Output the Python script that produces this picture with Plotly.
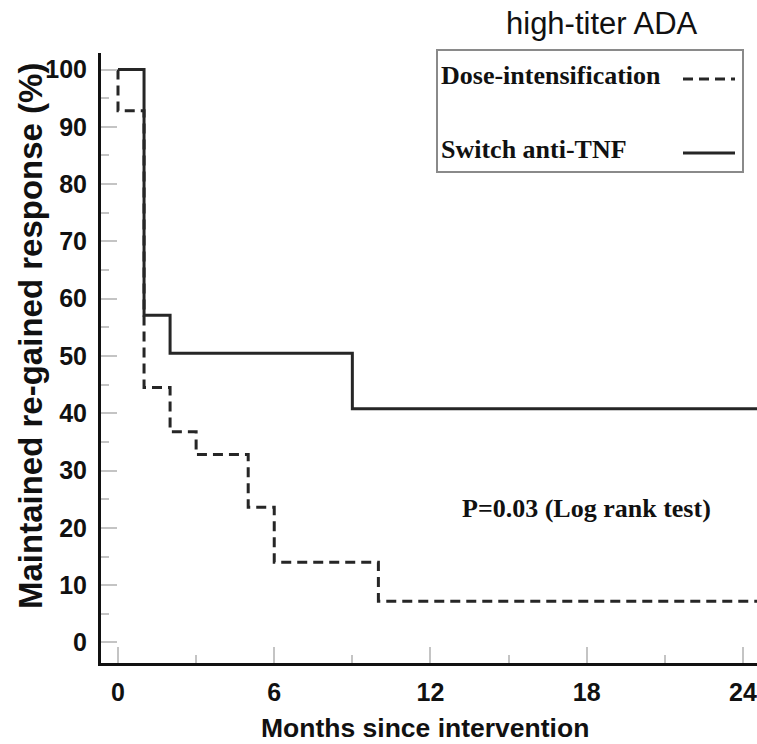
import plotly.graph_objects as go

# ---- data ----
switch_months = [0, 1, 2, 9, 24.6]
switch_resp = [100, 57.1, 50.5, 40.8, 40.8]

dose_months = [0, 0, 1, 2, 3, 5, 6, 10, 24.6]
dose_resp = [100, 92.8, 44.5, 36.8, 32.8, 23.6, 14.0, 7.2, 7.2]

x_ticks = [0, 6, 12, 18, 24]
y_ticks = [0, 10, 20, 30, 40, 50, 60, 70, 80, 90, 100]

series_names = ["Dose-intensification", "Switch anti-TNF"]
title_text = "high-titer ADA"
x_title = "Months since intervention"
y_title = "Maintained re-gained response (%)"
p_text = "P=0.03 (Log rank test)"

LINE = "#262626"
DASH = "10px,6px"
SANS = "Liberation Sans, Arial, sans-serif"
SERIF = "Liberation Serif, Times New Roman, serif"

fig = go.Figure()
fig.add_trace(go.Scatter(x=dose_months, y=dose_resp, mode="lines", line_shape="hv",
                         line=dict(color=LINE, width=3, dash=DASH), name=series_names[0],
                         showlegend=False))
fig.add_trace(go.Scatter(x=switch_months, y=switch_resp, mode="lines", line_shape="hv",
                         line=dict(color=LINE, width=3), name=series_names[1],
                         showlegend=False))

W, H = 757, 744
L, R, T, B = 101, 0, 53, 81
pw, ph = W - L - R, H - T - B


def px(xp):
    return (xp - L) / pw


def py(yp):
    return (H - B - yp) / ph


tickfont = dict(family=SANS, size=25, color="#111", weight="bold")

fig.update_layout(
    width=W, height=H,
    margin=dict(l=L, r=R, t=T, b=B, pad=0),
    paper_bgcolor="white", plot_bgcolor="white",
    showlegend=False,
    xaxis=dict(range=[-0.653, 24.54], tickmode="array", tickvals=x_ticks,
               ticktext=[str(v) for v in x_ticks],
               showgrid=False, zeroline=False, showline=True, linewidth=3, linecolor="#111",
               ticks="inside", ticklen=16, tickwidth=2, tickcolor="#c4c4c4",
               minor=dict(dtick=3, tick0=0, ticks="inside", ticklen=8, tickwidth=2,
                          tickcolor="#c4c4c4"),
               tickfont=tickfont, ticklabelstandoff=5, ticklabeloverflow="allow"),
    yaxis=dict(range=[-3.58, 102.88], tickmode="array", tickvals=y_ticks,
               ticktext=[str(v) for v in y_ticks],
               showgrid=False, zeroline=False, showline=True, linewidth=3, linecolor="#111",
               ticks="inside", ticklen=16, tickwidth=2, tickcolor="#c4c4c4",
               minor=dict(dtick=5, tick0=0, ticks="inside", ticklen=8, tickwidth=2,
                          tickcolor="#c4c4c4"),
               tickfont=tickfont, ticklabelstandoff=6, ticklabeloverflow="allow"),
)

# legend box (text on the left, line sample on the right)
fig.add_shape(type="rect", xref="paper", yref="paper",
              x0=px(437), x1=px(743), y0=py(172), y1=py(50),
              line=dict(color="#8a8a8a", width=2), fillcolor="rgba(0,0,0,0)")
fig.add_shape(type="line", xref="paper", yref="paper",
              x0=px(683), x1=px(735), y0=py(79), y1=py(79),
              line=dict(color=LINE, width=3, dash=DASH))
fig.add_shape(type="line", xref="paper", yref="paper",
              x0=px(683), x1=px(735), y0=py(153), y1=py(153),
              line=dict(color=LINE, width=3))

legfont = dict(family=SERIF, size=26, color="#111", weight="bold")
fig.add_annotation(text=series_names[0], xref="paper", yref="paper", x=px(439), y=py(76),
                   xanchor="left", yanchor="middle", showarrow=False, font=legfont)
fig.add_annotation(text=series_names[1], xref="paper", yref="paper", x=px(439), y=py(149),
                   xanchor="left", yanchor="middle", showarrow=False, font=legfont)

# p-value text
fig.add_annotation(text=p_text, xref="x", yref="y", x=18, y=23.3,
                   xanchor="center", yanchor="middle", showarrow=False, font=legfont)

# title
fig.add_annotation(text=title_text, xref="paper", yref="paper", x=px(602), y=py(24),
                   xanchor="center", yanchor="middle", showarrow=False,
                   font=dict(family=SANS, size=31, color="#111"))

# axis titles
fig.add_annotation(text=x_title, xref="paper", yref="paper", x=px(425), y=py(728),
                   xanchor="center", yanchor="middle", showarrow=False,
                   font=dict(family=SANS, size=26.5, color="#111", weight="bold"))
fig.add_annotation(text=y_title, xref="paper", yref="paper", x=px(30), y=py(336),
                   xanchor="center", yanchor="middle", showarrow=False, textangle=-90,
                   font=dict(family=SANS, size=33, color="#111", weight="bold"))

fig.write_html("out.html")
